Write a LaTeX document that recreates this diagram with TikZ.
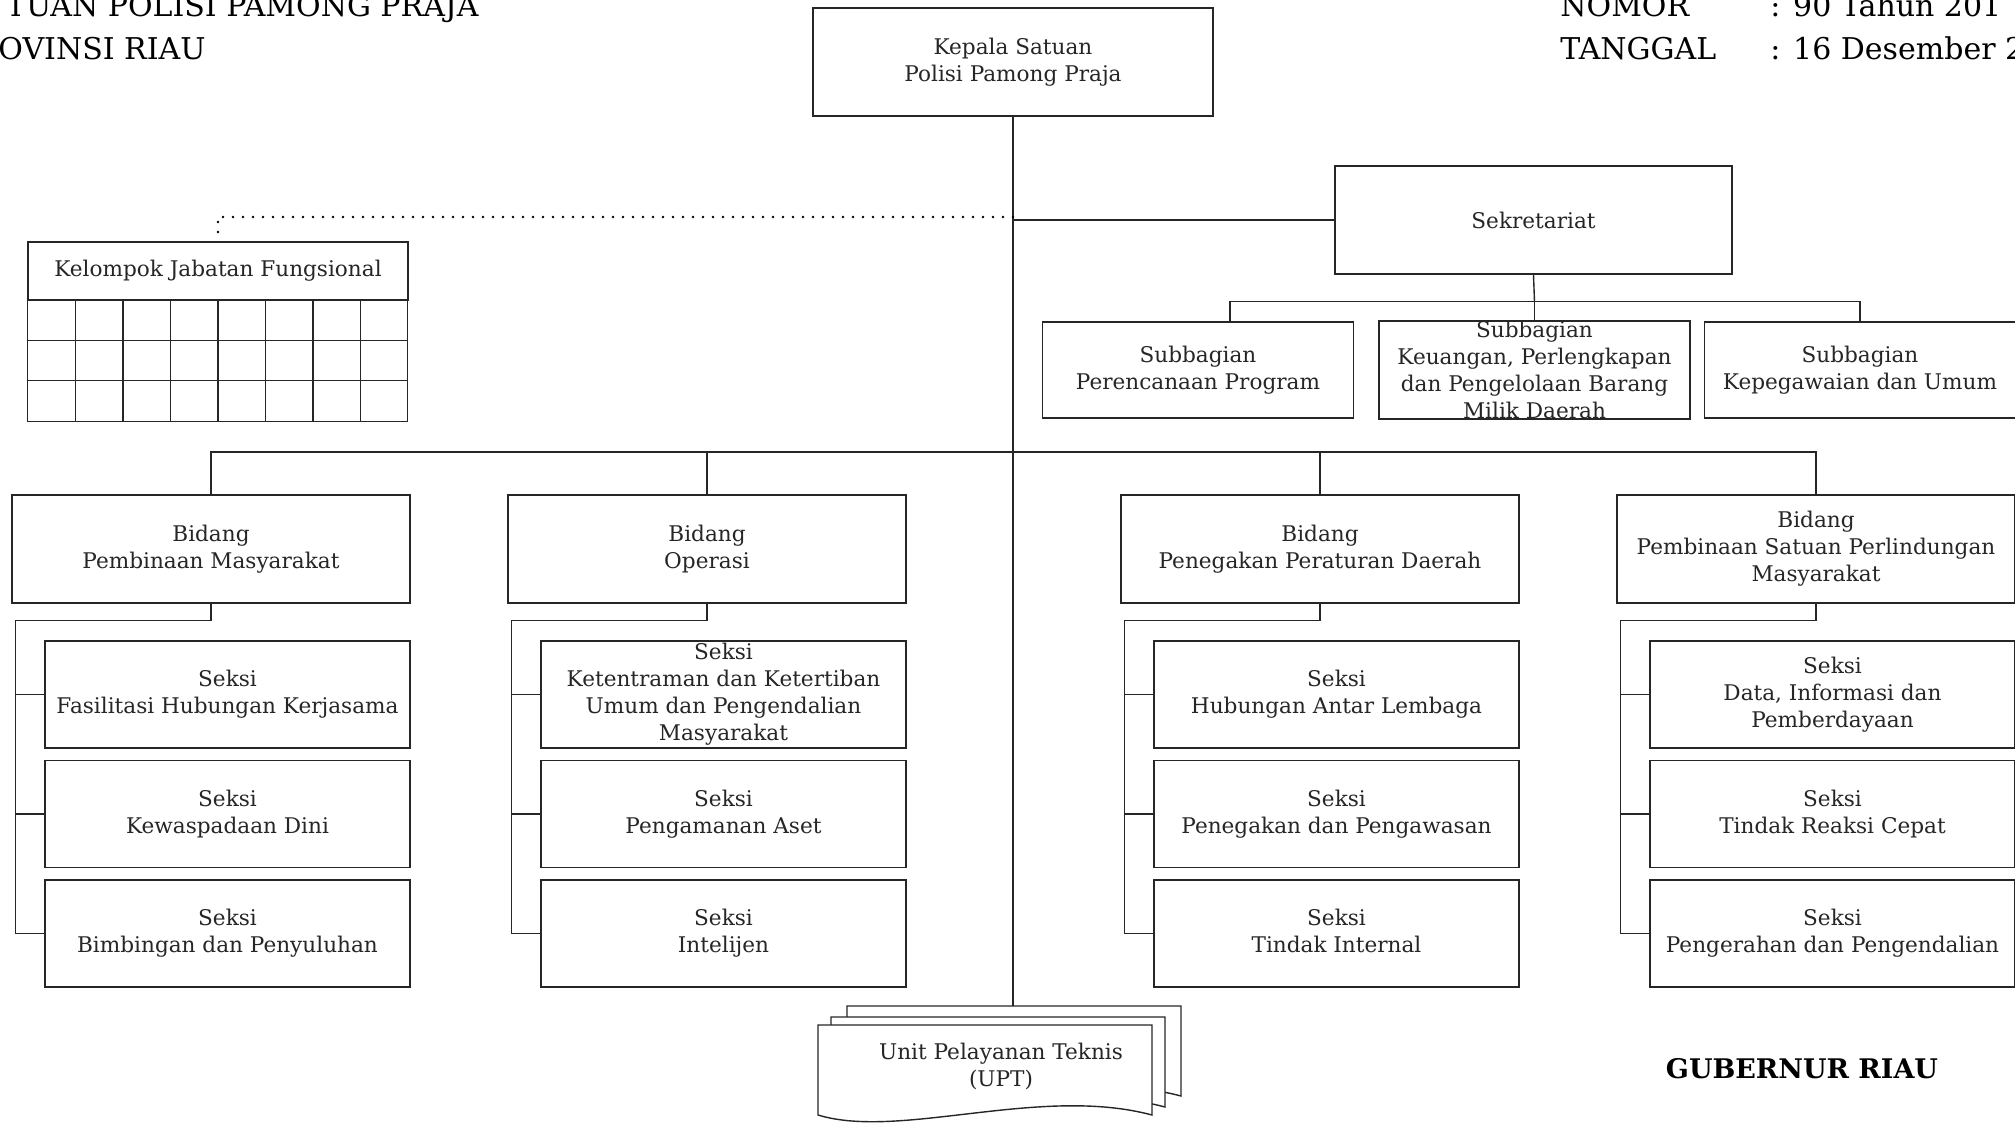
\documentclass[tikz,border=0pt]{standalone}
\usepackage{fontspec}
\setmainfont{DejaVu Serif}
\usepackage{tikz}
\usetikzlibrary{positioning,calc}

\begin{document}
\begin{tikzpicture}[x=0.5pt,y=-0.5pt,
    box/.style={draw=black!85, line width=0.7pt, fill=white, align=center, inner sep=0pt,
        font=\fontsize{10.8}{13.5}\selectfont, text=black!85},
    kepala/.style={box, minimum width=200pt, minimum height=54pt},
    bidang/.style={box, minimum width=199pt, minimum height=54pt},
    subbag/.style={box, minimum width=155.5pt, minimum height=48pt},
    seksi/.style={box, minimum width=182.5pt, minimum height=53.5pt},
    link/.style={draw=black!85, line width=0.7pt},
    dots/.style={draw=black, line width=1.4pt, line cap=round, dash pattern=on 0pt off 5pt},
    page/.style={fill=white, draw=black!85, line width=0.7pt},
    header/.style={font=\fontsize{15}{18}\selectfont, inner sep=0pt}]

    \useasboundingbox (0,0) rectangle (2015,1126);

    % Header
    \node[header, anchor=base east] (sat) at (479,16) {TUAN POLISI PAMONG PRAJA};
    \node[header, anchor=base east] (prov) at (206,59) {OVINSI RIAU};
    \node[header, anchor=base west] (nomor) at (1560,16) {NOMOR};
    \node[header, anchor=base west] (nomorval) at (1770,16) {: 90 Tahun 201};
    \node[header, anchor=base west] (tgl) at (1560,59) {TANGGAL};
    \node[header, anchor=base west] (tglval) at (1770,59) {: 16 Desember 2};

    % Kepala and Sekretariat
    \node[kepala] (kepala) at (1013,62) {Kepala Satuan\\Polisi Pamong Praja};
    \node[box, minimum width=198.5pt, minimum height=54pt] (sek) at (1533.5,220) {Sekretariat};
    \node[subbag] (sub1) at (1198,370) {Subbagian\\Perencanaan Program};
    \node[subbag] (sub2) at (1534.5,370) {Subbagian\\Keuangan, Perlengkapan\\dan Pengelolaan Barang\\Milik Daerah};
    \node[subbag] (sub3) at (1860,370) {Subbagian\\Kepegawaian dan Umum};

    % Kelompok Jabatan Fungsional
    \node[box, minimum width=190pt, minimum height=29pt] (kjf) at (218,271) {Kelompok Jabatan Fungsional};
    \draw[link] (kjf.south west) rectangle ++(380,121);
    \foreach \i in {1,...,7}
        \draw[link] (28+47.5*\i,300) -- (28+47.5*\i,421);
    \draw[link] (28,340.3) -- (408,340.3);
    \draw[link] (28,380.7) -- (408,380.7);

    % Bidang
    \node[bidang] (bid1) at (211,549) {Bidang\\Pembinaan Masyarakat};
    \node[bidang] (bid2) at (707,549) {Bidang\\Operasi};
    \node[bidang] (bid3) at (1320,549) {Bidang\\Penegakan Peraturan Daerah};
    \node[bidang] (bid4) at (1816,549) {Bidang\\Pembinaan Satuan Perlindungan\\Masyarakat};

    % Seksi Pembinaan Masyarakat
    \node[seksi] (s11) at (227.5,694.5) {Seksi\\Fasilitasi Hubungan Kerjasama};
    \node[seksi] (s12) at (227.5,814) {Seksi\\Kewaspadaan Dini};
    \node[seksi] (s13) at (227.5,933.5) {Seksi\\Bimbingan dan Penyuluhan};

    % Seksi Operasi
    \node[seksi] (s21) at (723.5,694.5) {Seksi\\Ketentraman dan Ketertiban\\Umum dan Pengendalian\\Masyarakat};
    \node[seksi] (s22) at (723.5,814) {Seksi\\Pengamanan Aset};
    \node[seksi] (s23) at (723.5,933.5) {Seksi\\Intelijen};

    % Seksi Penegakan Peraturan Daerah
    \node[seksi] (s31) at (1336.5,694.5) {Seksi\\Hubungan Antar Lembaga};
    \node[seksi] (s32) at (1336.5,814) {Seksi\\Penegakan dan Pengawasan};
    \node[seksi] (s33) at (1336.5,933.5) {Seksi\\Tindak Internal\vphantom{g}};

    % Seksi Pembinaan Satuan Perlindungan Masyarakat
    \node[seksi] (s41) at (1832.5,694.5) {Seksi\\Data, Informasi dan\\Pemberdayaan};
    \node[seksi] (s42) at (1832.5,814) {Seksi\\Tindak Reaksi Cepat};
    \node[seksi] (s43) at (1832.5,933.5) {Seksi\\Pengerahan dan Pengendalian};

    % UPT (stacked pages)
    \filldraw[page, shift={(29,-19)}] (818,1025) -- (1152,1025) -- (1152,1115) .. controls (1040,1085) and (900,1140) .. (818,1115) -- cycle;
    \filldraw[page, shift={(13,-8)}] (818,1025) -- (1152,1025) -- (1152,1115) .. controls (1040,1085) and (900,1140) .. (818,1115) -- cycle;
    \filldraw[page] (818,1025) -- (1152,1025) -- (1152,1115) .. controls (1040,1085) and (900,1140) .. (818,1115) -- cycle;
    \node[align=center, font=\fontsize{10.8}{13.5}\selectfont, text=black!85] (upt) at (1001,1066) {Unit Pelayanan Teknis\\(UPT)};
    \coordinate (upttop) at (1013,1006);

    \node[font=\bfseries\fontsize{13.5}{16}\selectfont] (gub) at (1802,1069) {GUBERNUR RIAU};

    % Main line
    \draw[link] (kepala.south) -- (upttop);
    \draw[link] (kepala.south |- sek.west) -- (sek.west);
    \draw[dots] (kepala.south |- 0,217) -- (kjf.north |- 0,217) -- (kjf.north);

    % Sekretariat to Subbagian
    \coordinate (sbar) at (1534.5,302);
    \draw[link] (sek.south) -- (sbar);
    \draw[link] ([xshift=16pt]sub1.north) -- ++(0,-20) -| (sub3.north);
    \draw[link] (sub2.north) -- ++(0,-20);

    % Bidang bar
    \coordinate (bar) at (1013,452);
    \draw[link] (bid1.north) |- (bar) -| (bid4.north);
    \draw[link] (bid2.north) -- (bid2.north |- bar);
    \draw[link] (bid3.north) -- (bid3.north |- bar);

    % Brackets to Seksi
    \draw[link] (bid1.south) -- ++(0,17) -| ([xshift=-14.5pt]s13.west) -- (s13.west);
    \draw[link] (s11.west) -- ++(-29,0);
    \draw[link] (s12.west) -- ++(-29,0);
    \draw[link] (bid2.south) -- ++(0,17) -| ([xshift=-14.5pt]s23.west) -- (s23.west);
    \draw[link] (s21.west) -- ++(-29,0);
    \draw[link] (s22.west) -- ++(-29,0);
    \draw[link] (bid3.south) -- ++(0,17) -| ([xshift=-14.5pt]s33.west) -- (s33.west);
    \draw[link] (s31.west) -- ++(-29,0);
    \draw[link] (s32.west) -- ++(-29,0);
    \draw[link] (bid4.south) -- ++(0,17) -| ([xshift=-14.5pt]s43.west) -- (s43.west);
    \draw[link] (s41.west) -- ++(-29,0);
    \draw[link] (s42.west) -- ++(-29,0);
\end{tikzpicture}
\end{document}
